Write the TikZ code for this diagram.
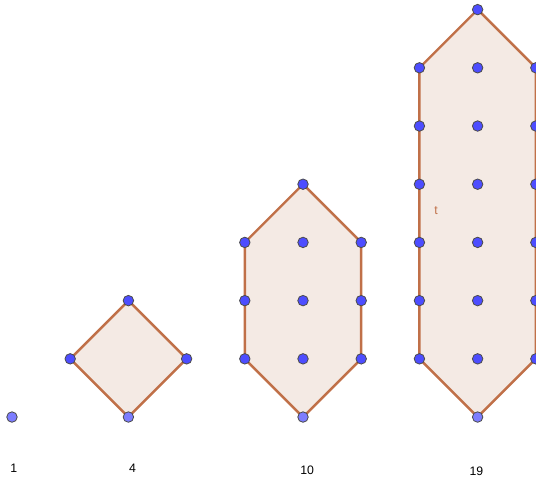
\documentclass[tikz,border=0pt]{standalone}
\usepackage{fontspec}
\setmainfont{Liberation Sans}
\definecolor{edgebrown}{RGB}{192,112,72}
\definecolor{facefill}{RGB}{244,234,228}
\definecolor{dotblue}{RGB}{77,77,255}
\definecolor{dotlight}{RGB}{125,125,255}
\begin{document}
\begin{tikzpicture}[x=1cm, y=1cm, font=\fontsize{6}{7}\selectfont,
      face/.style={fill=facefill, draw=edgebrown, line width=1.2pt, line join=round},
      dot/.style={circle, fill=dotblue, draw=black!70, line width=0.4pt, inner sep=0pt, minimum size=0.18cm},
      basedot/.style={dot, fill=dotlight},
      count/.style={anchor=base}]
    \useasboundingbox (-0.206,-1.117) rectangle (9.003,7.165);
    % one
    \begin{scope}
      \node[basedot] (p1) at (0,0) {};
      \node[count] (n1) at (0.03,-0.95) {1};
    \end{scope}
    % four
    \begin{scope}[xshift=2cm]
      \draw[face] (0,2) -- (1,1) -- (0,0) -- (-1,1) -- cycle;
      \node[dot] (q1) at (0,2) {};
      \node[dot] (q2) at (-1,1) {};
      \node[dot] (q3) at (1,1) {};
      \node[basedot] (q4) at (0,0) {};
      \node[count] (n4) at (0.07,-0.95) {4};
    \end{scope}
    % ten
    \begin{scope}[xshift=5cm]
      \draw[face] (0,4) -- (1,3) -- (1,1) -- (0,0) -- (-1,1) -- (-1,3) -- cycle;
      \node[dot] (r0) at (0,4) {};
      \foreach \row in {1,2,3} {
        \node[dot] (rl\row) at (-1,\row) {};
        \node[dot] (rm\row) at (0,\row) {};
        \node[dot] (rr\row) at (1,\row) {};
      }
      \node[basedot] (rb) at (0,0) {};
      \node[count] (n10) at (0.07,-0.99) {10};
    \end{scope}
    % nineteen
    \begin{scope}[xshift=8cm]
      \draw[face] (0,7) -- (1,6) -- (1,1) -- (0,0) -- (-1,1) -- (-1,6) -- cycle;
      \node[dot] (s0) at (0,7) {};
      \foreach \row in {1,...,6} {
        \node[dot] (sl\row) at (-1,\row) {};
        \node[dot] (sm\row) at (0,\row) {};
        \node[dot] (sr\row) at (1,\row) {};
      }
      \node[basedot] (sb) at (0,0) {};
      \node[text=edgebrown] (t) at (-0.715,3.54) {t};
      \node[count] (n19) at (-0.02,-1.0) {19};
    \end{scope}
  \end{tikzpicture}
\end{document}
